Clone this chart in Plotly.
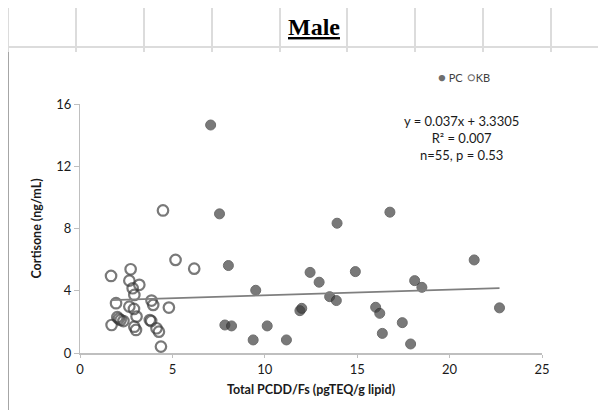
import plotly.graph_objects as go

# ---- data ----
pc_x = [7.07, 7.55, 8.03, 9.51, 7.84, 8.20, 10.13, 9.37, 11.17, 11.90, 12.00, 12.45,
        13.91, 16.77, 12.94, 14.90, 13.51, 13.87, 16.00, 16.22, 16.36, 17.44, 17.89,
        18.11, 18.50, 21.33, 22.70]
pc_y = [14.65, 8.94, 5.62, 4.03, 1.80, 1.74, 1.74, 0.84, 0.84, 2.72, 2.87, 5.18,
        8.34, 9.05, 4.55, 5.23, 3.62, 3.37, 2.94, 2.55, 1.26, 1.95, 0.58,
        4.65, 4.22, 5.98, 2.90]

kb_x = [1.68, 2.74, 2.67, 3.21, 2.85, 2.94, 1.95, 3.87, 3.96, 4.81, 2.67, 2.92, 3.06,
        2.02, 2.20, 2.35, 1.71, 2.94, 3.03, 3.78, 3.85, 4.14, 4.27, 4.38, 5.17, 6.18,
        4.49, 2.10]
kb_y = [4.95, 5.38, 4.65, 4.38, 4.16, 3.73, 3.20, 3.37, 3.09, 2.92, 2.98, 2.83, 2.34,
        2.30, 2.12, 2.05, 1.80, 1.69, 1.48, 2.12, 2.05, 1.59, 1.37, 0.41, 5.98, 5.42,
        9.16, 2.20]

slope = 0.037
intercept = 3.3305
trend_text = "y = 0.037x + 3.3305<br>R² = 0.007<br>n=55, p = 0.53"
series_names = ["PC", "KB"]

x_ticks = [0, 5, 10, 15, 20, 25]
y_ticks = [0, 4, 8, 12, 16]

# ---- page geometry (the page body adds an 8px offset) ----
OFF = 8
W, H = 606 - OFF, 410 - OFF
L, R, T, B = 80, 542, 104, 353   # plot area in screen pixels


def px(x):
    return (x - L) / (R - L)


def py(y):
    return (B - y) / (B - T)


all_x = pc_x + kb_x
xmin, xmax = min(all_x), max(all_x)
mark_col = "#3a3a3a"

fig = go.Figure()
fig.add_trace(go.Scatter(
    x=pc_x, y=pc_y, mode="markers", name=series_names[0],
    marker=dict(symbol="circle", size=10, color=mark_col, opacity=0.68,
                line=dict(width=1, color="#2a2a2a")),
))
fig.add_trace(go.Scatter(
    x=kb_x, y=kb_y, mode="markers", name=series_names[1],
    marker=dict(symbol="circle-open", size=10.5, color=mark_col, opacity=0.68,
                line=dict(width=2.2)),
))
fig.add_trace(go.Scatter(
    x=[xmin, xmax], y=[slope * xmin + intercept, slope * xmax + intercept],
    mode="lines", showlegend=False, hoverinfo="skip",
    line=dict(color="#7f7f7f", width=1.75),
))

shapes = []
grid_col = "#dcdcdc"
for yy in [47]:
    shapes.append(dict(type="line", xref="paper", yref="paper", x0=px(8), x1=px(606),
                       y0=py(yy), y1=py(yy), line=dict(color=grid_col, width=2)))
for xx in [8, 76, 144, 212, 280, 347, 415, 483, 551]:
    shapes.append(dict(type="line", xref="paper", yref="paper", x0=px(xx), x1=px(xx),
                       y0=py(6), y1=py(52), line=dict(color=grid_col, width=2)))
shapes.append(dict(type="line", xref="paper", yref="paper", x0=px(8.5), x1=px(8.5),
                   y0=py(52), y1=py(410), line=dict(color="#a6a6a6", width=1)))

leg_pc = "<span style='color:#6e6e6e;font-size:13px'>●</span> " + series_names[0]
leg_kb = "<span style='color:#6e6e6e;font-size:13px'>○</span>" + series_names[1]

fig.update_layout(
    width=W, height=H,
    margin=dict(l=L - OFF, r=W - (R - OFF), t=T - OFF, b=H - (B - OFF), pad=0),
    paper_bgcolor="white", plot_bgcolor="white",
    font=dict(family="Lato, Calibri, sans-serif", size=12, color="#262626"),
    shapes=shapes,
    showlegend=False,
    xaxis=dict(range=[0, 25], tickvals=x_ticks, ticktext=[str(v) for v in x_ticks],
               automargin=False,
               showgrid=False, zeroline=False, showline=True, linecolor="#bfbfbf",
               linewidth=2, ticks="outside", ticklen=3, tickcolor="#bfbfbf",
               tickfont=dict(size=13, color="#1a1a1a"),
               title=dict(text="<b>Total PCDD/Fs (pgTEQ/g lipid)</b>", standoff=10,
                          font=dict(size=12.5, color="#1a1a1a"))),
    yaxis=dict(range=[0, 16], tickvals=y_ticks, ticktext=[str(v) for v in y_ticks],
               automargin=False,
               showgrid=False, zeroline=False, showline=True, linecolor="#bfbfbf",
               linewidth=1, ticks="outside", ticklen=5, tickcolor="#bfbfbf",
               tickfont=dict(size=13, color="#1a1a1a"),
               title=dict(text="<b>Cortisone (ng/mL)</b>", standoff=11,
                          font=dict(size=12.5, color="#1a1a1a"))),
    annotations=[
        dict(text="<b><u>Male</u></b>", xref="paper", yref="paper", x=px(314), y=py(27),
             xanchor="center", yanchor="middle", showarrow=False,
             font=dict(family="Liberation Serif, Times New Roman, serif", size=24,
                       color="black")),
        dict(text=trend_text, xref="paper", yref="paper", x=px(461), y=py(138),
             xanchor="center", yanchor="middle", showarrow=False, align="center",
             font=dict(size=13, color="#1a1a1a")),
        dict(text=leg_pc, xref="paper", yref="paper", x=px(436), y=py(77),
             xanchor="left", yanchor="middle", showarrow=False,
             font=dict(size=11, color="#404040")),
        dict(text=leg_kb, xref="paper", yref="paper", x=px(465), y=py(77),
             xanchor="left", yanchor="middle", showarrow=False,
             font=dict(size=11, color="#404040")),
    ],
)

fig.write_html("out.html")
